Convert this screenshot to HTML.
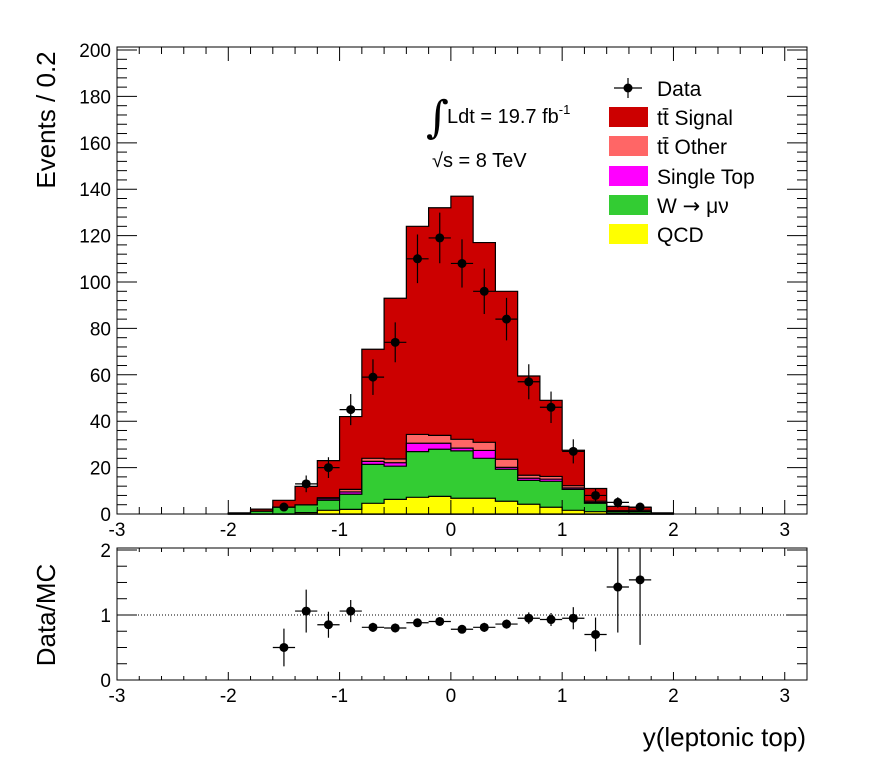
<!DOCTYPE html>
<html><head><meta charset="utf-8"><style>
body{margin:0;background:#fff;}
svg{display:block;font-family:"Liberation Sans",sans-serif;}
</style></head><body>
<svg id="c" width="896" height="772"></svg>
<script>
const binEdgesStart = -2.0;
const binWidth = 0.2;
const qcd    = [0,0,0,0.6,1.6,2,4.6,6.3,7.2,7.6,6.8,6.8,5.5,4.2,2.9,1.6,1,0.3,0.3,0];
const wmunu  = [0.2,1.2,2.9,3.3,4.3,6.5,16.8,14.3,19.7,20.3,20.4,17.2,13.8,10.3,11.2,9,3.6,0.7,0.7,0.1];
const stop   = [0,0,0,0,0.6,1,1.3,1.5,3.6,2.6,1.2,3.4,0.8,0.9,0.9,0.6,0.3,0.1,0.1,0];
const ttOther= [0,0,0,0,0.5,1.1,1.3,1.6,3.8,3.4,3.8,3.5,3.5,1.3,1.2,1,0.6,0.3,0.5,0];
const ttSig  = [0.3,0.9,3,8,16,31.4,47,69.3,89.7,98.1,104.8,86.1,72.4,42.8,32.8,15.3,5.5,1.9,1.3,0.4];
const dataX  = [-1.5,-1.3,-1.1,-0.9,-0.7,-0.5,-0.3,-0.1,0.1,0.3,0.5,0.7,0.9,1.1,1.3,1.5,1.7];
const dataY  = [3,13,20,45,59,74,110,119,108,96,84,57,46,27,8,5,3];
const ratioY = [0.50,1.06,0.85,1.06,0.81,0.80,0.88,0.90,0.78,0.81,0.86,0.95,0.93,0.95,0.70,1.43,1.54];
const ratioErr=[0.29,0.33,0.20,0.17,0.07,0.07,0.06,0.06,0.06,0.07,0.07,0.09,0.10,0.17,0.26,0.7,1.0];
const xTicks = [-3,-2,-1,0,1,2,3];
const yTicks = [0,20,40,60,80,100,120,140,160,180,200];
const rTicks = [0,1,2];

const NS="http://www.w3.org/2000/svg";
const svg=document.getElementById('c');
function el(t,a,p){const e=document.createElementNS(NS,t);for(const k in a)e.setAttribute(k,a[k]);(p||svg).appendChild(e);return e;}
const X0=117,X1=807,xmin=-3,xmax=3.2;
const xs=v=>X0+(v-xmin)/(xmax-xmin)*(X1-X0);
const MY0=514,MY1=47,ymax=201.3;
const ys=v=>MY0-v/ymax*(MY0-MY1);
const RY0=680,RY1=548,rmax=2.03;
const rs=v=>RY0-v/rmax*(RY0-RY1);

const layers=[[qcd,'#ffff00','qcd'],[wmunu,'#33cc33','w-munu'],[stop,'#ff00ff','single-top'],[ttOther,'#ff6666','tt-other'],[ttSig,'#cc0000','tt-signal']];
const g=el('g',{});


const cum=new Array(ttSig.length).fill(0);
const tops=[];
layers.forEach(L=>{const arr=L[0];const t=[];arr.forEach((v,i)=>{cum[i]+=v;t.push(cum[i]);});tops.push([t.slice(),L[1],L[2]]);});
for(let k=tops.length-1;k>=0;k--){
  const [t,col,nm]=tops[k];
  let d='M'+xs(binEdgesStart)+','+ys(0);
  t.forEach((v,i)=>{const a=xs(binEdgesStart+i*binWidth),b=xs(binEdgesStart+(i+1)*binWidth);d+=' L'+a+','+ys(v)+' L'+b+','+ys(v);});
  d+=' L'+xs(binEdgesStart+t.length*binWidth)+','+ys(0)+' Z';
  const p=el('path',{d:d,fill:col,stroke:'#000','stroke-width':1.2},g);
  
  
}
function frame(yTop,yBot,name){const r=el('rect',{x:X0,y:yTop,width:X1-X0,height:yBot-yTop,fill:'none',stroke:'#000','stroke-width':1});}
frame(MY1,MY0,'main-frame');frame(RY1,RY0,'ratio-frame');
function xticks(yTop,yBot,maj){
  for(let v=-3;v<=3.2001;v+=0.2){const x=xs(v);const major=Math.abs(v-Math.round(v))<1e-6;const L=major?maj:maj/2;
    el('line',{x1:x,x2:x,y1:yBot,y2:yBot-L,stroke:'#000'});el('line',{x1:x,x2:x,y1:yTop,y2:yTop+L,stroke:'#000'});}
  xTicks.forEach(v=>{const t=el('text',{x:xs(v),y:yBot+22,'font-size':19,'text-anchor':'middle'});t.textContent=v;});
}
xticks(MY1,MY0,14);xticks(RY1,RY0,8);
for(let v=0;v<=200;v+=4){const y=ys(v);const L=v%20==0?20:10;el('line',{x1:X0,x2:X0+L,y1:y,y2:y,stroke:'#000'});el('line',{x1:X1,x2:X1-L,y1:y,y2:y,stroke:'#000'});}
yTicks.forEach(v=>{const t=el('text',{x:X0-6,y:ys(v)+7,'font-size':19,'text-anchor':'end'});t.textContent=v;});
for(let v=0;v<=2.0001;v+=0.25){const y=rs(v);const L=Math.abs(v-Math.round(v))<1e-6?20:10;el('line',{x1:X0,x2:X0+L,y1:y,y2:y,stroke:'#000'});el('line',{x1:X1,x2:X1-L,y1:y,y2:y,stroke:'#000'});}
rTicks.forEach(v=>{const t=el('text',{x:X0-6,y:rs(v)+7,'font-size':19,'text-anchor':'end'});t.textContent=v;});
el('line',{x1:X0,x2:X1,y1:rs(1),y2:rs(1),stroke:'#000','stroke-dasharray':'1,2'});
dataX.forEach((x,i)=>{const cx=xs(x),cy=ys(dataY[i]);const e=Math.sqrt(dataY[i]);
  const gp=el('g',{});
  el('line',{x1:xs(x-0.1),x2:xs(x+0.1),y1:cy,y2:cy,stroke:'#000','stroke-width':1.2},gp);
  el('line',{x1:cx,x2:cx,y1:ys(dataY[i]+e),y2:Math.min(ys(Math.max(0,dataY[i]-e)),MY0),stroke:'#000','stroke-width':1.2},gp);
  el('circle',{cx:cx,cy:cy,r:4.5,fill:'#000'},gp);});
dataX.forEach((x,i)=>{const cx=xs(x),cy=rs(ratioY[i]);
  const gp=el('g',{});
  el('line',{x1:xs(x-0.1),x2:xs(x+0.1),y1:cy,y2:cy,stroke:'#000','stroke-width':1.2},gp);
  el('line',{x1:cx,x2:cx,y1:Math.max(rs(ratioY[i]+ratioErr[i]),RY1),y2:rs(ratioY[i]-ratioErr[i]),stroke:'#000','stroke-width':1.2},gp);
  el('circle',{cx:cx,cy:cy,r:4.5,fill:'#000'},gp);});
</script>
<svg width="896" height="772" style="position:absolute;left:0;top:0">
<text x="0" y="0" transform="translate(55,120) rotate(-90)" font-size="26" text-anchor="middle" font-family="Liberation Sans">Events / 0.2</text>
<text x="0" y="0" transform="translate(55,615) rotate(-90)" font-size="26" text-anchor="middle" font-family="Liberation Sans">Data/MC</text>
<text x="806" y="746" font-size="26" text-anchor="end" font-family="Liberation Sans">y(leptonic top)</text>
<g font-family="Liberation Sans" font-size="20">
<text x="426" y="132" font-size="44" font-family="DejaVu Serif">∫</text>
<text x="447" y="123">Ldt = 19.7 fb<tspan dy="-9" font-size="13">-1</tspan></text>
<text x="432" y="167">√s = 8 TeV</text>
</g>
<g font-family="Liberation Sans" font-size="21">
<line x1="628" y1="78" x2="628" y2="98" stroke="#000" stroke-width="1.2"/><line x1="614" y1="88" x2="642" y2="88" stroke="#000" stroke-width="1.2"/><circle cx="628" cy="88" r="4.5"/>
<text x="657" y="96">Data</text>
<rect x="609" y="107" width="39" height="20" fill="#cc0000"/><text x="657" y="125">tt̄ Signal</text>
<rect x="609" y="136" width="39" height="20" fill="#ff6666"/><text x="657" y="154">tt̄ Other</text>
<rect x="609" y="166" width="39" height="20" fill="#ff00ff"/><text x="657" y="184">Single Top</text>
<rect x="609" y="195" width="39" height="20" fill="#33cc33"/><text x="657" y="213">W <tspan font-family="DejaVu Sans">→</tspan> μν</text>
<rect x="609" y="224" width="39" height="20" fill="#ffff00"/><text x="657" y="242">QCD</text>
</g>
</svg>
</body></html>
